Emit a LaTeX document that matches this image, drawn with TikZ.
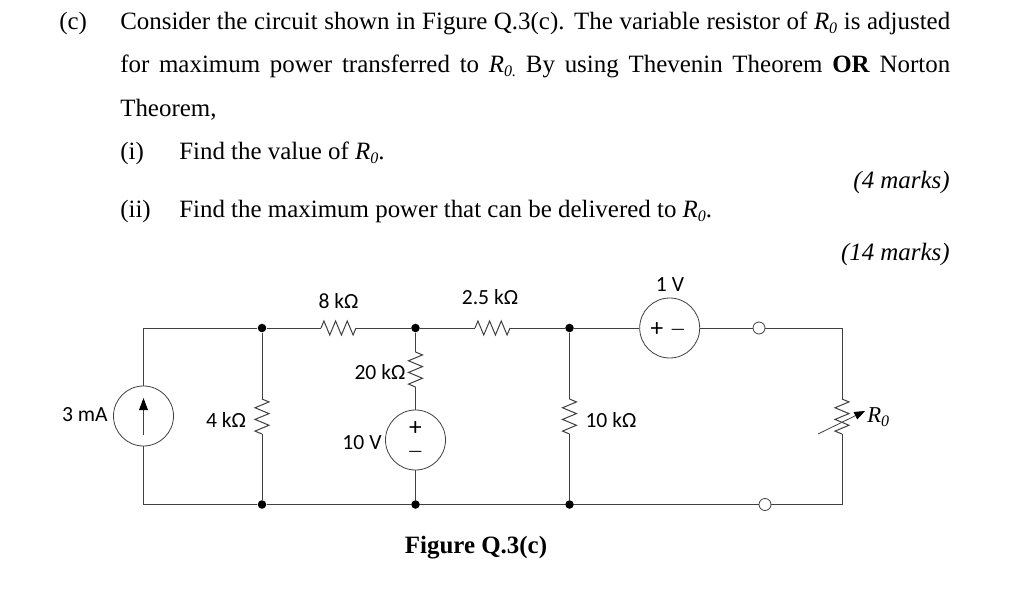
\documentclass[tikz,border=0pt]{standalone}
\usepackage{fontspec}
\setmainfont{Liberation Serif}
\newfontfamily\labfont{Carlito}
\usetikzlibrary{decorations.pathmorphing,arrows.meta}
\definecolor{wirecol}{HTML}{404040}
\newcommand{\Rzero}{\textit{R\raisebox{-0.18em}{\fontsize{12pt}{14pt}\selectfont 0}}}
\newcommand{\Rzerodot}{\textit{R\raisebox{-0.18em}{\fontsize{12pt}{14pt}\selectfont 0.}}}
\tikzset{
  wire/.style={draw=wirecol,line width=0.75pt},
  res/.style={wire,line join=miter,decorate,decoration={zigzag,segment length=8.75pt,amplitude=5.25pt}},
  source/.style={circle,draw=wirecol,line width=0.6pt,minimum size=45pt,inner sep=0pt,fill=white},
  dot/.style={circle,fill=black,minimum size=6.4pt,inner sep=0pt},
  open/.style={circle,draw=wirecol,line width=0.6pt,fill=white,minimum size=9pt,inner sep=0pt},
  txt/.style={anchor=base west,inner sep=0pt,font=\fontsize{18.7pt}{22pt}\selectfont},
  lab/.style={inner sep=0pt,font=\labfont\fontsize{16.2pt}{18pt}\selectfont,text=black},
  sign/.style={inner sep=0pt,font=\labfont\fontsize{19pt}{20pt}\selectfont,text=black},
  minus/.style={inner sep=0pt,font=\labfont\fontsize{12.5pt}{14pt}\selectfont,text=black}
}
\begin{document}
\begin{tikzpicture}[x=0.75pt,y=-0.75pt]
\useasboundingbox[fill=white] (0,0) rectangle (1029,614);
% question text
\node[txt] (tc) at (59,29) {(c)};
\node[txt] (l1) at (120,29) {\makebox[622.5pt][s]{Consider the circuit shown in Figure Q.3(c). The variable resistor of \Rzero{} is adjusted}};
\node[txt] (l2) at (120,72) {\makebox[622.5pt][s]{for maximum power transferred to \Rzerodot{} By using Thevenin Theorem \textbf{OR} Norton}};
\node[txt] (l3) at (120,116) {Theorem,};
\node[txt] (i1) at (120,159) {(i)};
\node[txt] (i2) at (179,159) {Find the value of \Rzero.};
\node[txt,anchor=base east] (m1) at (950,188) {\textit{(4 marks)}};
\node[txt] (ii1) at (120,217) {(ii)};
\node[txt] (ii2) at (179,217) {Find the maximum power that can be delivered to \Rzero.};
\node[txt,anchor=base east] (m2) at (950,260) {\textit{(14 marks)}};
\node[txt,anchor=base] (fig) at (476,553) {\textbf{Figure Q.3(c)}};
% junctions
\coordinate (tl) at (143.5,328);
\coordinate (bl) at (143.5,504.5);
\coordinate (tr) at (842,328);
\coordinate (br) at (842,504.5);
\node[dot] (a1) at (262,328) {};
\node[dot] (a2) at (415.5,328) {};
\node[dot] (a3) at (569.5,328) {};
\node[dot] (b1) at (262,504.5) {};
\node[dot] (b2) at (415.5,504.5) {};
\node[dot] (b3) at (569.5,504.5) {};
\node[open] (o1) at (759,328) {};
\node[open] (o2) at (765,504.5) {};
% sources
\node[source] (is) at (143.5,416) {};
\node[source] (vs) at (415.5,440) {};
\node[source] (v1) at (669.7,328) {};
% resistor ends
\coordinate (r8a) at (321,328);   \coordinate (r8b) at (356,328);
\coordinate (r25a) at (475,328);  \coordinate (r25b) at (510,328);
\coordinate (r20a) at (415.5,352);\coordinate (r20b) at (415.5,387);
\coordinate (r4a) at (262,399);   \coordinate (r4b) at (262,434);
\coordinate (r10a) at (569.5,399);\coordinate (r10b) at (569.5,434);
\coordinate (r0a) at (842,399);   \coordinate (r0b) at (842,434);
% wires
\draw[wire] (is) -- (tl) -- (a1) -- (r8a);
\draw[wire] (r8b) -- (a2) -- (r25a);
\draw[wire] (r25b) -- (a3) -- (v1);
\draw[wire] (v1) -- (o1) -- (tr) -- (r0a);
\draw[wire] (r0b) -- (br) -- (o2) -- (b3) -- (b2) -- (b1) -- (bl) -- (is);
\draw[wire] (a1) -- (r4a);
\draw[wire] (r4b) -- (b1);
\draw[wire] (a2) -- (r20a);
\draw[wire] (r20b) -- (vs);
\draw[wire] (vs) -- (b2);
\draw[wire] (a3) -- (r10a);
\draw[wire] (r10b) -- (b3);
% resistors
\draw[res] (r8a) -- (r8b);
\draw[res] (r25a) -- (r25b);
\draw[res] (r20a) -- (r20b);
\draw[res] (r4a) -- (r4b);
\draw[res] (r10a) -- (r10b);
\draw[res] (r0a) -- (r0b);
% variable resistor arrow
\coordinate (raS) at (818,434);
\coordinate (raE) at (865,411);
\draw[wirecol,line width=0.6pt,-{Triangle[length=8pt,width=6pt,color=black]}] (raS) -- (raE);
% current source arrow
\coordinate (iaS) at (143.5,435);
\coordinate (iaE) at (143.5,398);
\draw[wirecol,line width=0.75pt,-{Triangle[length=9pt,width=6.5pt,color=black]}] (iaS) -- (iaE);
% polarity signs
\node[sign] (vp) at (415.5,429) {+};
\node[minus] (vm) at (415.5,453.5) {—};
\node[sign] (v1p) at (657,330) {+};
\node[minus] (v1m) at (678,331.5) {—};
% labels
\node[lab,anchor=east] (l3ma) at (108,415) {3 mA};
\node[lab] (l4k) at (226,420) {4 kΩ};
\node[lab] (l8k) at (338.5,301) {8 kΩ};
\node[lab] (l25k) at (490,297) {2.5 kΩ};
\node[lab] (l20k) at (380,372) {20 kΩ};
\node[lab] (l10v) at (362,443) {10 V};
\node[lab] (l1v) at (670,285) {1 V};
\node[lab] (l10k) at (611,420) {10 kΩ};
\node[txt] (lr0) at (867,422) {\fontsize{17pt}{20pt}\selectfont\Rzero};
\end{tikzpicture}
\end{document}
